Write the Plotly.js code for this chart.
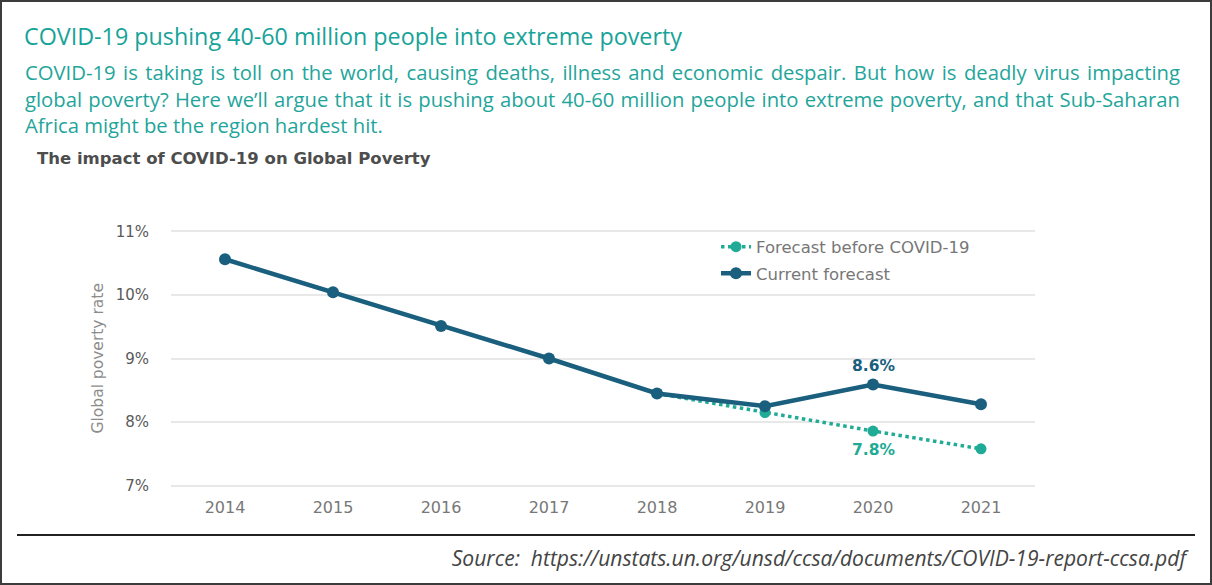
<!DOCTYPE html>
<html><head><meta charset="utf-8">
<script src="https://cdn.plot.ly/plotly-3.0.1.min.js"></script>
<style>
html,body{margin:0;padding:0;background:#fff;}
#card{position:absolute;left:0;top:0;width:1212px;height:585px;box-sizing:border-box;border:2px solid #3c3c3c;background:#fff;}
.t{position:absolute;font-family:"Open Sans",sans-serif;white-space:nowrap;}
#title{left:24px;top:22px;font-size:20px;line-height:28px;color:#17a399;}
.para{position:absolute;left:25px;font-family:"Open Sans",sans-serif;font-size:17px;line-height:26px;color:#1fa59b;white-space:nowrap;}
#rule{position:absolute;left:17px;top:534px;width:1178px;height:2px;background:#222;}
#src{right:26px;top:545px;font-size:17px;line-height:26px;font-style:italic;color:#444;}
#chart{position:absolute;left:0;top:140px;width:1212px;height:395px;}
</style></head>
<body>
<div id="card"></div>
<div class="t" id="title">COVID-19 pushing 40-60 million people into extreme poverty</div>
<div class="para" id="l1" style="top:59px">COVID-19 is taking is toll on the world, causing deaths, illness and economic despair. But how is deadly virus impacting</div>
<div class="para" id="l2" style="top:86px">global poverty? Here we’ll argue that it is pushing about 40-60 million people into extreme poverty, and that Sub-Saharan</div>
<div class="para" id="l3" style="top:112px">Africa might be the region hardest hit.</div>
<div id="rule"></div>
<div class="t" id="src">Source:&nbsp; https://unstats.un.org/unsd/ccsa/documents/COVID-19-report-ccsa.pdf</div>
<div id="chart"></div>
<script>
// ---- data ----
const years = ["2014","2015","2016","2017","2018","2019","2020","2021"];
const currentForecast = [10.56, 10.04, 9.51, 9.0, 8.45, 8.25, 8.59, 8.28];
const forecastYears = ["2018","2019","2020","2021"];
const forecastBeforeCovid = [8.45, 8.15, 7.86, 7.58];
const yTicks = [7, 8, 9, 10, 11];
const yTickText = ["7%", "8%", "9%", "10%", "11%"];
const labelYear = "2020";
const currentLabel = "8.6%";
const forecastLabel = "7.8%";

// ---- fit HTML text widths ----
function fitWidth(id, target){
  const el = document.getElementById(id);
  const fs = parseFloat(getComputedStyle(el).fontSize);
  const w = el.getBoundingClientRect().width;
  const nf = fs * target / w;
  el.style.fontSize = nf + 'px';
  return nf;
}
fitWidth('title', 658);
fitWidth('src', 735);
const pf = fitWidth('l3', 358);
function justifyLine(id, target){
  const el = document.getElementById(id);
  el.style.fontSize = pf + 'px';
  const w = el.getBoundingClientRect().width;
  const n = (el.textContent.match(/ /g) || []).length;
  el.style.wordSpacing = ((target - w) / n) + 'px';
}
justifyLine('l1', 1155);
justifyLine('l2', 1155);

const cDark = '#1a5f7d';
const cTeal = '#1fab95';
const dv = '"DejaVu Sans", sans-serif';

const traces = [
  {x: forecastYears, y: forecastBeforeCovid, type:'scatter', mode:'lines+markers',
   name:'Forecast before COVID-19', legendgroup:'a',
   line:{color:cTeal, width:3.5, dash:'dot'}, marker:{color:cTeal, size:11}},
  {x: years, y: currentForecast, type:'scatter', mode:'lines+markers',
   name:'Current forecast', legendgroup:'b',
   line:{color:cDark, width:4.5}, marker:{color:cDark, size:12}}
];

const iC = years.indexOf(labelYear);
const iF = forecastYears.indexOf(labelYear);

const layout = {
  width:1212, height:395,
  margin:{l:171, r:177, t:90, b:48},
  paper_bgcolor:'rgba(0,0,0,0)', plot_bgcolor:'rgba(0,0,0,0)',
  font:{family:dv, color:'#666'},
  title:{text:'<b>The impact of COVID-19 on Global Poverty</b>', xref:'container', yref:'container',
         x:37/1212, xanchor:'left', y:1-18/395, yanchor:'middle',
         font:{size:16.5, color:'#4d4d4d', family:dv}},
  xaxis:{type:'category', categoryorder:'array', categoryarray:years, range:[-0.5, 7.5],
         showgrid:false, zeroline:false, showline:false, ticks:'',
         tickfont:{size:16, color:'#777', family:dv}, ticklabelstandoff:9},
  yaxis:{range:[6.98, 11.02], tickvals:yTicks, ticktext:yTickText, showgrid:true,
         gridcolor:'#e8e8e8', gridwidth:2, zeroline:false, showline:false, ticks:'',
         tickfont:{size:15, color:'#5a5a5a', family:dv}, ticklabelstandoff:21},
  showlegend:true,
  legend:{x:(716-171)/864, xanchor:'left', y:1.002, yanchor:'top', traceorder:'grouped',
          tracegroupgap:2, bgcolor:'rgba(0,0,0,0)', font:{size:16.5, color:'#777', family:dv}},
  annotations:[
    {text:'Global poverty rate', textangle:-90, xref:'paper', yref:'y', x:(97-171)/864, y:9,
     xanchor:'center', yanchor:'middle',
     showarrow:false, font:{size:15.5, color:'#8c8c8c', family:dv}},
    {text:'<b>'+currentLabel+'</b>', xref:'x', yref:'y', x:iC, y:currentForecast[iC],
     yshift:19, showarrow:false, font:{size:15.5, color:cDark, family:dv}},
    {text:'<b>'+forecastLabel+'</b>', xref:'x', yref:'y', x:years.indexOf(forecastYears[iF]), y:forecastBeforeCovid[iF],
     yshift:-19, showarrow:false, font:{size:15.5, color:cTeal, family:dv}}
  ]
};
Plotly.newPlot('chart', traces, layout, {displayModeBar:false, staticPlot:true});
</script>
</body></html>
